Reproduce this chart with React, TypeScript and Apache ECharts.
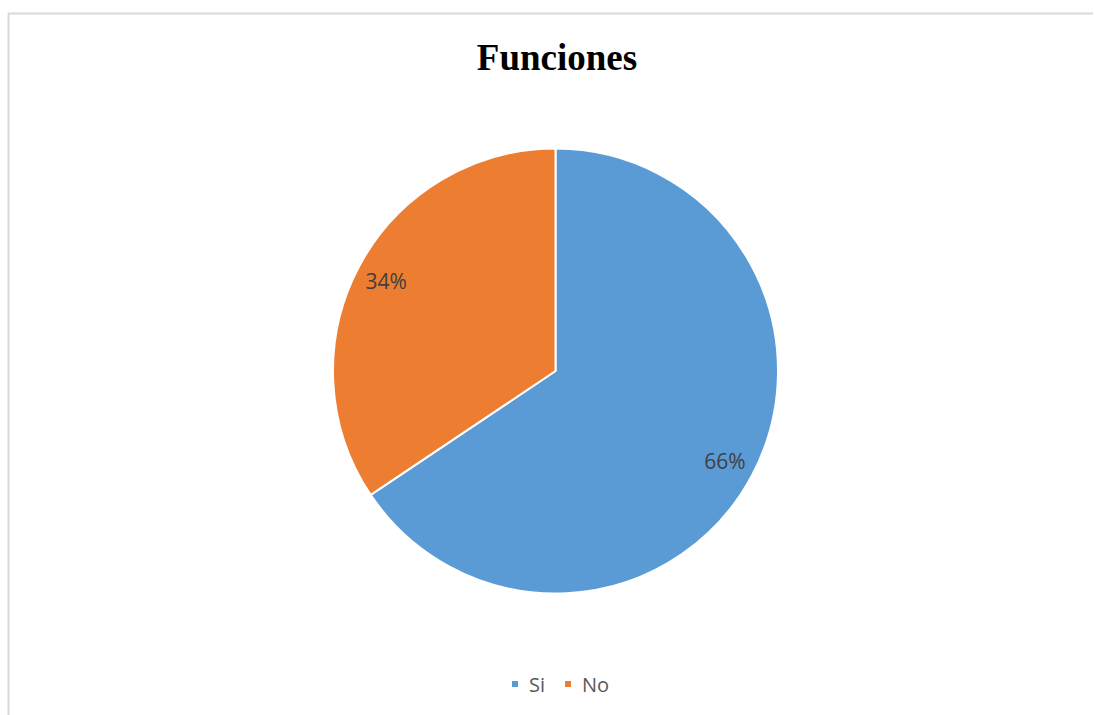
import React, { useEffect, useRef } from "react";
import * as echarts from "echarts";

const categories = ["Si", "No"];
const values = [65.6, 34.4];
const colors = ["#5B9BD5", "#ED7D31"];
const titleText = "Funciones";

export default function App() {
  const ref = useRef<HTMLDivElement>(null);
  useEffect(() => {
    if (!ref.current) return;
    const chart = echarts.init(ref.current, null, { renderer: "svg" });
    const data = categories.map((name, i) => ({ name, value: values[i] }));
    const center = [555.5, 371];
    chart.setOption({
      animation: false,
      backgroundColor: "#ffffff",
      color: colors,
      title: {
        text: titleText,
        left: 552,
        textAlign: "center",
        top: 34,
        textStyle: {
          fontFamily: "Liberation Serif",
          fontWeight: "bold",
          fontSize: 37,
          color: "#000000",
        },
      },
      legend: {
        data: categories,
        left: 505,
        top: 669,
        icon: "rect",
        itemWidth: 8,
        itemHeight: 8,
        itemGap: 18,
        textStyle: {
          fontFamily: "Open Sans",
          fontSize: 20,
          color: "#595959",
          padding: [0, 0, 0, 5],
        },
      },
      graphic: [
        { type: "line", shape: { x1: 8, y1: 13.5, x2: 1093, y2: 13.5 }, style: { stroke: "#d9d9d9", lineWidth: 2 } },
        { type: "line", shape: { x1: 8.5, y1: 13, x2: 8.5, y2: 715 }, style: { stroke: "#d9d9d9", lineWidth: 2 } },
      ],
      series: [
        {
          type: "pie",
          center,
          radius: [0, 222.5],
          startAngle: 90,
          clockwise: true,
          data,
          label: { show: false },
          labelLine: { show: false },
          itemStyle: { borderColor: "#ffffff", borderWidth: 2 },
          silent: true,
        },
        {
          type: "pie",
          center,
          radius: [156, 222],
          startAngle: 90,
          clockwise: true,
          data,
          silent: true,
          legendHoverLink: false,
          itemStyle: { color: "rgba(0,0,0,0)", borderWidth: 0 },
          label: {
            show: true,
            position: "inside",
            formatter: (p: any) => `${Math.round(p.percent)}%`,
            fontFamily: "Open Sans",
            fontSize: 21,
            color: "#404040",
          },
          labelLine: { show: false },
        },
      ],
    });
    return () => chart.dispose();
  }, []);
  return (
    <div
      ref={ref}
      style={{ position: "absolute", left: 0, top: 0, width: 1094, height: 715 }}
    />
  );
}
